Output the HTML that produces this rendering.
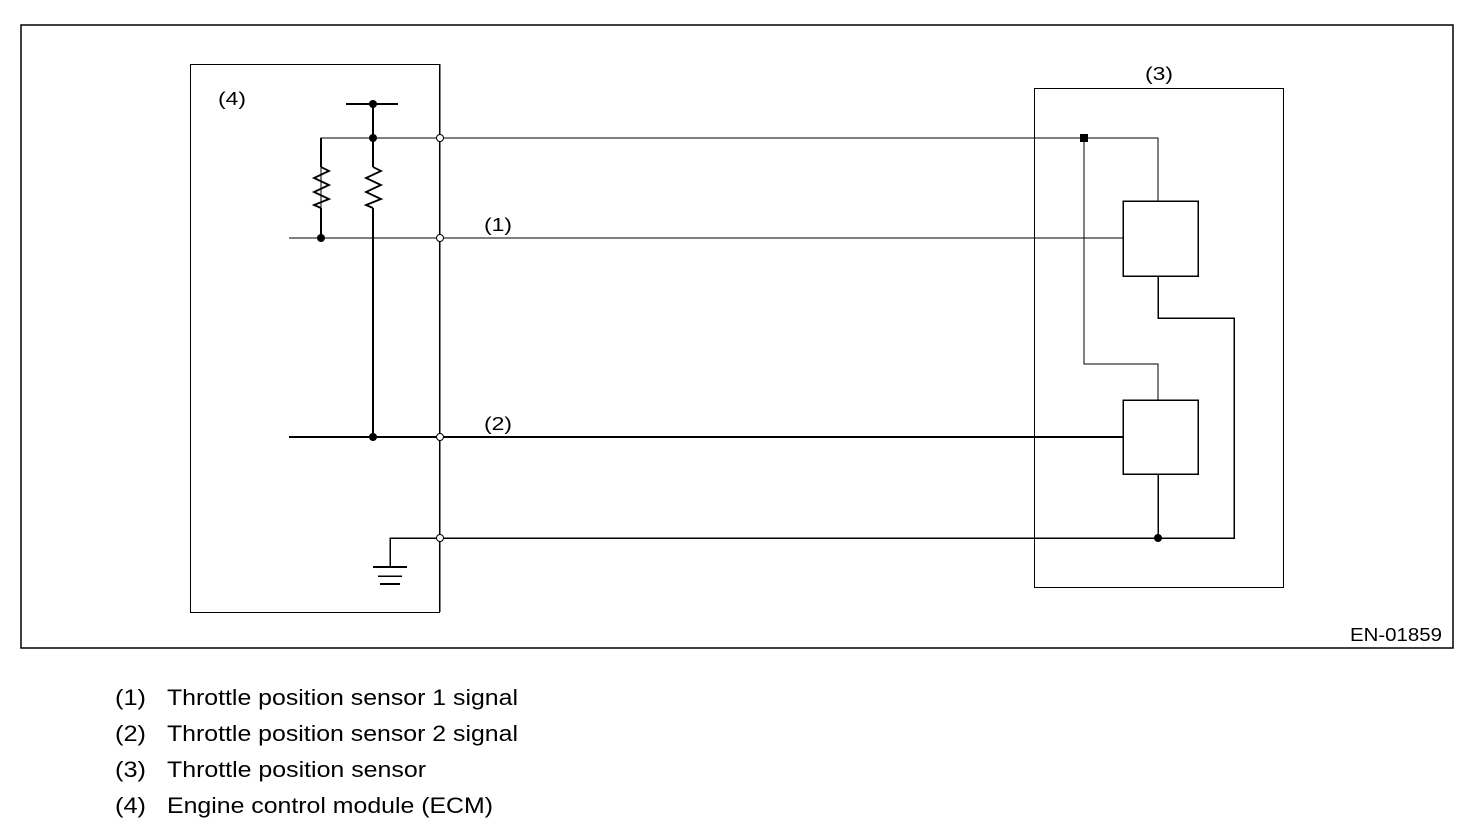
<!DOCTYPE html>
<html><head><style>body{margin:0;background:#fff}svg{display:block}</style></head><body>
<svg width="1472" height="832" xmlns="http://www.w3.org/2000/svg" font-family="Liberation Sans, sans-serif">
<rect x="21" y="25" width="1432" height="623" fill="none" stroke="#000" stroke-width="1.5"/>
<g shape-rendering="crispEdges">
<rect x="190.5" y="64.5" width="249" height="548" fill="none" stroke="#000"/>
<rect x="1034.5" y="88.5" width="249" height="499" fill="none" stroke="#000"/>
</g>
<g stroke="#000" fill="none" shape-rendering="crispEdges">
<line x1="440" y1="64" x2="440" y2="612" stroke-width="1"/>
<line x1="346" y1="104" x2="398" y2="104" stroke-width="2"/>
<line x1="373" y1="104" x2="373" y2="138" stroke-width="2"/>
<polyline points="321,238 321,138 1158,138 1158,201" stroke-width="1.2"/>
<line x1="321" y1="138" x2="321" y2="167" stroke-width="2"/>
<line x1="321" y1="208" x2="321" y2="238" stroke-width="2"/>
<line x1="373" y1="138" x2="373" y2="167" stroke-width="2"/>
<line x1="373" y1="208" x2="373" y2="437" stroke-width="2"/>
<line x1="289" y1="238" x2="1123" y2="238" stroke-width="1"/>
<line x1="289" y1="437" x2="1123" y2="437" stroke-width="2"/>
<polyline points="390,567 390,538 1234,538 1234,318 1158,318 1158,276" stroke-width="1.5"/>
<line x1="373" y1="567" x2="407" y2="567" stroke-width="2"/>
<line x1="378" y1="576" x2="402" y2="576" stroke-width="1.5"/>
<line x1="380" y1="584" x2="400" y2="584" stroke-width="2"/>
<polyline points="1084,138 1084,364 1158,364 1158,400" stroke-width="1.2"/>
<line x1="1158" y1="474" x2="1158" y2="538" stroke-width="1.5"/>
<rect x="1123" y="201" width="75" height="75" stroke-width="1.5"/>
<rect x="1123" y="400" width="75" height="74" stroke-width="1.5"/>
</g>
<g stroke="#000" fill="none">
<polyline points="321,167 329,171 314,178 329,185 314,192 329,199 314,205 321,208" stroke-width="1.8"/>
<polyline points="373,167 381,171 366,178 381,185 366,192 381,199 366,205 373,208" stroke-width="1.8"/>
</g>
<g fill="#000">
<circle cx="373" cy="104" r="4"/><circle cx="373" cy="138" r="4"/><circle cx="321" cy="238" r="4"/>
<circle cx="373" cy="437" r="4"/><circle cx="1158" cy="538" r="4"/>
<rect x="1080" y="134" width="8" height="8"/>
</g>
<g fill="#fff" stroke="#000" stroke-width="1">
<circle cx="440" cy="138" r="3.5"/><circle cx="440" cy="238" r="3.5"/><circle cx="440" cy="437" r="3.5"/><circle cx="440" cy="538" r="3.5"/>
</g>
<g font-size="18" fill="#000">
<text x="218" y="105" textLength="28" lengthAdjust="spacingAndGlyphs">(4)</text>
<text x="1145" y="80" textLength="28" lengthAdjust="spacingAndGlyphs">(3)</text>
<text x="484" y="231" textLength="28" lengthAdjust="spacingAndGlyphs">(1)</text>
<text x="484" y="430" textLength="28" lengthAdjust="spacingAndGlyphs">(2)</text>
<text x="1350" y="641" textLength="92" lengthAdjust="spacingAndGlyphs">EN-01859</text>
</g>
<g font-size="22" fill="#000">
<text x="115" y="705" textLength="31" lengthAdjust="spacingAndGlyphs">(1)</text><text x="167" y="705" textLength="351" lengthAdjust="spacingAndGlyphs">Throttle position sensor 1 signal</text>
<text x="115" y="741" textLength="31" lengthAdjust="spacingAndGlyphs">(2)</text><text x="167" y="741" textLength="351" lengthAdjust="spacingAndGlyphs">Throttle position sensor 2 signal</text>
<text x="115" y="777" textLength="31" lengthAdjust="spacingAndGlyphs">(3)</text><text x="167" y="777" textLength="259" lengthAdjust="spacingAndGlyphs">Throttle position sensor</text>
<text x="115" y="813" textLength="31" lengthAdjust="spacingAndGlyphs">(4)</text><text x="167" y="813" textLength="326" lengthAdjust="spacingAndGlyphs">Engine control module (ECM)</text>
</g>
</svg>
</body></html>
